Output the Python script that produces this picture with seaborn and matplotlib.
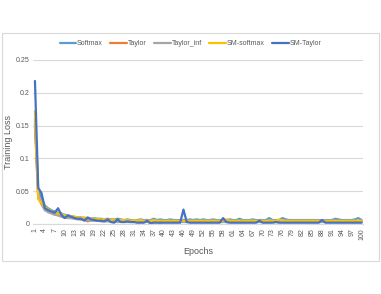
import numpy as np
import pandas as pd
import seaborn as sns
import matplotlib.pyplot as plt
from matplotlib.patches import Rectangle

epochs = list(range(1, 101))

softmax = [
    0.160, 0.050, 0.040, 0.028, 0.024, 0.021, 0.019, 0.017, 0.016, 0.014,
    0.013, 0.012, 0.011, 0.010, 0.010, 0.009, 0.009, 0.008, 0.009, 0.008,
    0.008, 0.007, 0.008, 0.007, 0.007, 0.008, 0.007, 0.006, 0.007, 0.006,
    0.006, 0.006, 0.007, 0.006, 0.006, 0.006, 0.008, 0.006, 0.007, 0.006,
    0.006, 0.007, 0.006, 0.006, 0.006, 0.006, 0.006, 0.007, 0.006, 0.007,
    0.006, 0.007, 0.006, 0.006, 0.007, 0.006, 0.006, 0.006, 0.006, 0.007,
    0.006, 0.006, 0.008, 0.006, 0.006, 0.006, 0.007, 0.006, 0.006, 0.006,
    0.006, 0.009, 0.006, 0.006, 0.006, 0.009, 0.007, 0.006, 0.006, 0.006,
    0.006, 0.006, 0.006, 0.006, 0.006, 0.006, 0.006, 0.006, 0.006, 0.006,
    0.006, 0.008, 0.007, 0.006, 0.006, 0.006, 0.006, 0.007, 0.009, 0.006,
]

taylor = [
    0.150, 0.040, 0.030, 0.022, 0.019, 0.017, 0.015, 0.014, 0.012, 0.011,
    0.010, 0.009, 0.009, 0.008, 0.007, 0.007, 0.004, 0.006, 0.006, 0.005,
    0.005, 0.005, 0.005, 0.004, 0.005, 0.004, 0.004, 0.003, 0.004, 0.004,
    0.004, 0.004, 0.003, 0.004, 0.004, 0.002, 0.004, 0.004, 0.004, 0.004,
    0.004, 0.004, 0.004, 0.003, 0.004, 0.004, 0.004, 0.004, 0.004, 0.004,
    0.004, 0.004, 0.003, 0.004, 0.004, 0.004, 0.004, 0.004, 0.004, 0.004,
    0.004, 0.004, 0.004, 0.004, 0.003, 0.004, 0.004, 0.004, 0.004, 0.004,
    0.004, 0.004, 0.004, 0.004, 0.004, 0.004, 0.004, 0.003, 0.004, 0.004,
    0.004, 0.004, 0.004, 0.004, 0.004, 0.004, 0.004, 0.004, 0.004, 0.004,
    0.004, 0.004, 0.004, 0.004, 0.004, 0.004, 0.004, 0.004, 0.004, 0.004,
]

taylor_inf = [
    0.155, 0.042, 0.032, 0.021, 0.018, 0.016, 0.014, 0.013, 0.011, 0.010,
    0.009, 0.009, 0.008, 0.007, 0.007, 0.006, 0.006, 0.005, 0.005, 0.005,
    0.004, 0.004, 0.004, 0.004, 0.004, 0.003, 0.004, 0.003, 0.003, 0.003,
    0.003, 0.003, 0.003, 0.003, 0.003, 0.003, 0.003, 0.003, 0.002, 0.003,
    0.003, 0.003, 0.003, 0.003, 0.003, 0.003, 0.003, 0.003, 0.003, 0.003,
    0.003, 0.003, 0.003, 0.003, 0.003, 0.003, 0.003, 0.003, 0.003, 0.003,
    0.003, 0.003, 0.003, 0.003, 0.003, 0.003, 0.003, 0.003, 0.003, 0.003,
    0.003, 0.003, 0.003, 0.003, 0.003, 0.003, 0.003, 0.003, 0.003, 0.003,
    0.003, 0.003, 0.003, 0.003, 0.003, 0.003, 0.003, 0.003, 0.003, 0.003,
    0.003, 0.003, 0.003, 0.003, 0.003, 0.003, 0.003, 0.003, 0.003, 0.003,
]

sm_softmax = [
    0.172, 0.038, 0.032, 0.026, 0.022, 0.020, 0.017, 0.016, 0.015, 0.013,
    0.012, 0.012, 0.011, 0.010, 0.009, 0.010, 0.009, 0.008, 0.008, 0.008,
    0.007, 0.007, 0.007, 0.006, 0.007, 0.006, 0.006, 0.006, 0.006, 0.005,
    0.006, 0.005, 0.006, 0.005, 0.005, 0.005, 0.006, 0.005, 0.005, 0.005,
    0.005, 0.005, 0.005, 0.005, 0.005, 0.005, 0.005, 0.005, 0.005, 0.005,
    0.005, 0.005, 0.005, 0.005, 0.005, 0.005, 0.005, 0.005, 0.007, 0.005,
    0.005, 0.005, 0.005, 0.005, 0.005, 0.005, 0.005, 0.005, 0.005, 0.005,
    0.005, 0.005, 0.005, 0.005, 0.007, 0.005, 0.005, 0.005, 0.005, 0.005,
    0.005, 0.005, 0.005, 0.005, 0.005, 0.005, 0.005, 0.005, 0.005, 0.005,
    0.005, 0.005, 0.005, 0.005, 0.005, 0.005, 0.005, 0.005, 0.005, 0.005,
]

sm_taylor = [
    0.218, 0.055, 0.047, 0.024, 0.021, 0.019, 0.017, 0.024, 0.014, 0.009,
    0.013, 0.011, 0.009, 0.008, 0.008, 0.005, 0.010, 0.007, 0.006, 0.005,
    0.005, 0.004, 0.007, 0.003, 0.002, 0.007, 0.003, 0.003, 0.004, 0.003,
    0.003, 0.002, 0.002, 0.002, 0.005, 0.001, 0.002, 0.002, 0.002, 0.002,
    0.002, 0.002, 0.002, 0.002, 0.002, 0.022, 0.003, 0.002, 0.002, 0.002,
    0.002, 0.002, 0.002, 0.002, 0.002, 0.002, 0.002, 0.009, 0.003, 0.002,
    0.002, 0.002, 0.002, 0.002, 0.002, 0.002, 0.002, 0.002, 0.005, 0.002,
    0.002, 0.002, 0.002, 0.003, 0.002, 0.002, 0.002, 0.002, 0.002, 0.002,
    0.002, 0.002, 0.002, 0.002, 0.002, 0.002, 0.002, 0.006, 0.002, 0.002,
    0.002, 0.002, 0.002, 0.002, 0.002, 0.002, 0.002, 0.002, 0.002, 0.002,
]

series_names = ["Softmax", "Taylor", "Taylor_inf", "SM-softmax", "SM-Taylor"]
colors = ["#5B9BD5", "#ED7D31", "#A5A5A5", "#FFC000", "#4472C4"]

df = pd.DataFrame({
    "Epoch": epochs * 5,
    "Loss": softmax + taylor + taylor_inf + sm_softmax + sm_taylor,
    "Model": sum([[n] * 100 for n in series_names], []),
})

sns.set_theme(style="white")
plt.rcParams["font.family"] = ["Liberation Sans", "DejaVu Sans"]

fig = plt.figure(figsize=(3.81, 2.94), dpi=100)
# chart border like the spreadsheet chart area
fig.patches.append(Rectangle((2 / 381, 1 - 261 / 294), 377 / 381, 228 / 294,
                             transform=fig.transFigure, fill=False,
                             edgecolor="#D9D9D9", linewidth=0.8))
ax = fig.add_axes([33.3 / 381, 1 - 224 / 294, 330 / 381, 164 / 294])

sns.lineplot(data=df, x="Epoch", y="Loss", hue="Model", hue_order=series_names,
             palette=colors, linewidth=1.6, ax=ax, legend=False)

ax.set_xlim(0.5, 100.5)
ax.set_ylim(0, 0.25)
ax.set_yticks([0, 0.05, 0.1, 0.15, 0.2, 0.25])
ax.set_yticklabels(["0", "0.05", "0.1", "0.15", "0.2", "0.25"])
ax.set_xticks(epochs[::3])
ax.set_xticklabels([str(e) for e in epochs[::3]], rotation=90)
ax.tick_params(axis="both", labelsize=5, colors="#595959", length=0, pad=3)
ax.grid(axis="y", color="#D9D9D9", linewidth=0.8)
ax.set_axisbelow(True)
for s in ["top", "right", "left"]:
    ax.spines[s].set_visible(False)
ax.spines["bottom"].set_color("#D9D9D9")
ax.spines["bottom"].set_linewidth(0.8)

ax.set_xlabel("Epochs", fontsize=6.5, color="#595959", labelpad=5)
ax.set_ylabel("Training Loss", fontsize=6.5, color="#595959", labelpad=2)

handles = [plt.Line2D([], [], color=c, linewidth=1.6) for c in colors]
fig.legend(handles, series_names, loc="center", bbox_to_anchor=(0.5, 1 - 44 / 294),
           ncol=5, frameon=False, fontsize=5, handlelength=2.4, handletextpad=0.1,
           columnspacing=1.1, labelcolor="#595959")

fig.savefig("out.png", dpi=100)
